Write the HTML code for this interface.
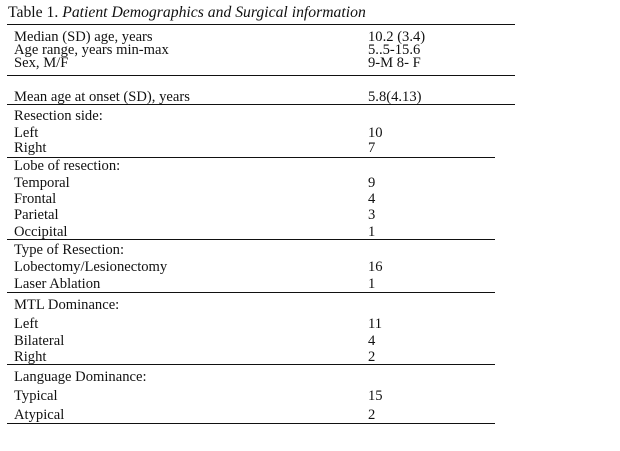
<!DOCTYPE html>
<html><head><meta charset="utf-8"><style>
body{margin:0;width:620px;height:451px;background:#fff;position:relative;overflow:hidden;font-family:"Liberation Serif",serif;color:#111}
.t{position:absolute;font-size:14.6px;line-height:16px;white-space:nowrap}
.l{left:14px}.v{left:368px}
.h{position:absolute;left:7px;height:1.3px;background:#111}
</style></head><body>
<div class="t" style="left:8px;top:5px;font-size:15.7px">Table 1. <i>Patient Demographics and Surgical information</i></div>
<div class="h" style="top:24px;width:508px"></div>
<div class="h" style="top:75px;width:508px"></div>
<div class="h" style="top:104px;width:508px"></div>
<div class="h" style="top:157px;width:488px"></div>
<div class="h" style="top:239px;width:488px"></div>
<div class="h" style="top:292px;width:488px"></div>
<div class="h" style="top:364px;width:488px"></div>
<div class="h" style="top:423px;width:488px"></div>

<div class="t l" style="top:29px">Median (SD) age, years</div><div class="t v" style="top:29px">10.2 (3.4)</div>
<div class="t l" style="top:42px">Age range, years min-max</div><div class="t v" style="top:42px">5..5-15.6</div>
<div class="t l" style="top:55px">Sex, M/F</div><div class="t v" style="top:55px">9-M 8- F</div>
<div class="t l" style="top:89px">Mean age at onset (SD), years</div><div class="t v" style="top:89px">5.8(4.13)</div>
<div class="t l" style="top:108px">Resection side:</div>
<div class="t l" style="top:125px">Left</div><div class="t v" style="top:125px">10</div>
<div class="t l" style="top:140px">Right</div><div class="t v" style="top:140px">7</div>
<div class="t l" style="top:158px">Lobe of resection:</div>
<div class="t l" style="top:175px">Temporal</div><div class="t v" style="top:175px">9</div>
<div class="t l" style="top:191px">Frontal</div><div class="t v" style="top:191px">4</div>
<div class="t l" style="top:207px">Parietal</div><div class="t v" style="top:207px">3</div>
<div class="t l" style="top:224px">Occipital</div><div class="t v" style="top:224px">1</div>
<div class="t l" style="top:242px">Type of Resection:</div>
<div class="t l" style="top:259px">Lobectomy/Lesionectomy</div><div class="t v" style="top:259px">16</div>
<div class="t l" style="top:276px">Laser Ablation</div><div class="t v" style="top:276px">1</div>
<div class="t l" style="top:297px">MTL Dominance:</div>
<div class="t l" style="top:316px">Left</div><div class="t v" style="top:316px">11</div>
<div class="t l" style="top:333px">Bilateral</div><div class="t v" style="top:333px">4</div>
<div class="t l" style="top:349px">Right</div><div class="t v" style="top:349px">2</div>
<div class="t l" style="top:369px">Language Dominance:</div>
<div class="t l" style="top:388px">Typical</div><div class="t v" style="top:388px">15</div>
<div class="t l" style="top:407px">Atypical</div><div class="t v" style="top:407px">2</div>
</body></html>
